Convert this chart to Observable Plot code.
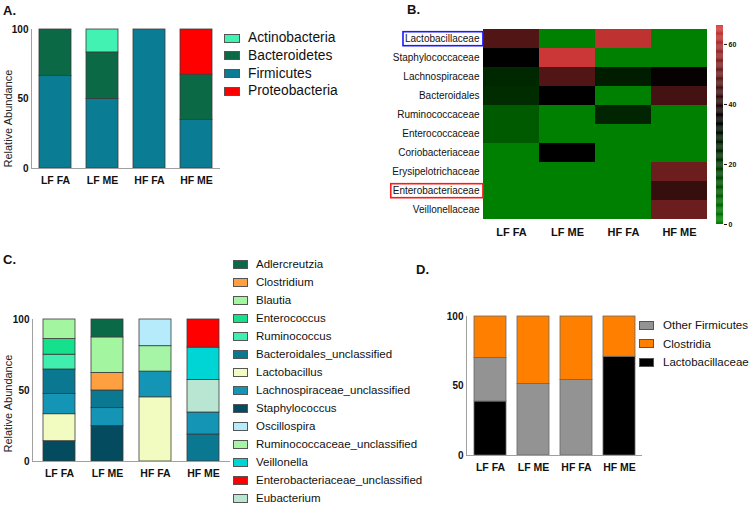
<!DOCTYPE html>
<html><head><meta charset="utf-8">
<script src="https://cdn.jsdelivr.net/npm/d3@7"></script>
<script src="https://cdn.jsdelivr.net/npm/@observablehq/plot@0.6"></script>
<style>
body{margin:0;background:#fff;}
#root{position:relative;width:750px;height:505px;overflow:hidden;font-family:"Liberation Sans",Arial,Helvetica,sans-serif;background:#fff;color:#111;}
.plabel{position:absolute;font-weight:bold;font-size:13px;line-height:1;}
.leg{position:absolute;font-size:11.5px;line-height:14px;height:14px;white-space:nowrap;display:flex;align-items:center;}
.sw{display:inline-block;box-sizing:border-box;border:1px solid #555;}
</style></head><body><div id="root"></div>
<script>
// ---------- shared ----------
const groups = ["LF FA", "LF ME", "HF FA", "HF ME"];
const abundanceTicks = [0, 50, 100];

// ---------- Panel A : phyla ----------
const phyla = ["Actinobacteria", "Bacteroidetes", "Firmicutes", "Proteobacteria"];
const phylaColors = ["#42F2B2", "#0B6A45", "#0A7D94", "#FF0000"];
const phylaStackOrder = ["Firmicutes", "Bacteroidetes", "Actinobacteria", "Proteobacteria"];
const firmicutesPct = [66.6, 50.0, 100, 35.0];
const bacteroidetesPct = [33.4, 33.5, 0, 32.5];
const actinobacteriaPct = [0, 16.5, 0, 0];
const proteobacteriaPct = [0, 0, 0, 32.5];

// ---------- Panel B : heatmap ----------
const families = ["Lactobacillaceae", "Staphylococcaceae", "Lachnospiraceae", "Bacteroidales",
  "Ruminococcaceae", "Enterococcaceae", "Coriobacteriaceae", "Erysipelotrichaceae",
  "Enterobacteriaceae", "Veillonellaceae"];
const heatLFFA = [47, 35, 24, 23, 10, 10, 0, 0, 0, 0];
const heatLFME = [0, 65, 47, 35, 0, 0, 35, 0, 0, 0];
const heatHFFA = [63, 0, 27, 0, 25, 0, 0, 0, 0, 0];
const heatHFME = [0, 0, 36, 45, 0, 0, 0, 51, 43, 51];
const heatTicks = [0, 20, 40, 60];
const heatDomain = [0, 35, 66.3];
const heatColors = ["#008000", "#000000", "#D43838"];
const boxedFamilies = ["Lactobacillaceae", "Enterobacteriaceae"];
const boxColors = ["#1a1aff", "#ff1a1a"];

// ---------- Panel C : genera ----------
const genera = ["Adlercreutzia", "Clostridium", "Blautia", "Enterococcus", "Ruminococcus",
  "Bacteroidales_unclassified", "Lactobacillus", "Lachnospiraceae_unclassified", "Staphylococcus",
  "Oscillospira", "Ruminococcaceae_unclassified", "Veillonella", "Enterobacteriaceae_unclassified", "Eubacterium"];
const generaColors = ["#0A6946", "#FFA040", "#A3F5A0", "#15E08C", "#40EFB0",
  "#0A7891", "#F2FCC0", "#1495B5", "#054B5F",
  "#B5EBFA", "#A6F5A6", "#00D5D5", "#FF0000", "#B9E6D2"];
const genusLFFA = ["Staphylococcus", "Lactobacillus", "Lachnospiraceae_unclassified", "Bacteroidales_unclassified", "Ruminococcus", "Enterococcus", "Blautia"];
const pctLFFA = [14.3, 19.0, 14.3, 17.2, 10.4, 11.0, 13.8];
const genusLFME = ["Staphylococcus", "Lachnospiraceae_unclassified", "Bacteroidales_unclassified", "Clostridium", "Blautia", "Adlercreutzia"];
const pctLFME = [25.0, 12.6, 12.4, 12.4, 25.0, 12.6];
const genusHFFA = ["Lactobacillus", "Lachnospiraceae_unclassified", "Ruminococcaceae_unclassified", "Oscillospira"];
const pctHFFA = [45.2, 18.1, 17.9, 18.8];
const genusHFME = ["Bacteroidales_unclassified", "Lachnospiraceae_unclassified", "Eubacterium", "Veillonella", "Enterobacteriaceae_unclassified"];
const pctHFME = [19.0, 15.5, 22.9, 22.8, 19.8];

// ---------- Panel D : Firmicutes breakdown ----------
const dClasses = ["Other Firmicutes", "Clostridia", "Lactobacillaceae"];
const dColors = ["#939393", "#FF8000", "#000000"];
const dStackOrder = ["Lactobacillaceae", "Other Firmicutes", "Clostridia"];
const lactobacillaceaePct = [38.8, 0, 0, 71.0];
const otherFirmicutesPct = [31.3, 51.4, 54.3, 0];
const clostridiaPct = [29.9, 48.6, 45.7, 29.0];

// ---------- helpers ----------
const root = document.getElementById("root");
const FONT = '"Liberation Sans", Arial, Helvetica, sans-serif';
const NS = "http://www.w3.org/2000/svg";

function place(el, left, top) {
  el.style.position = "absolute";
  el.style.left = left + "px";
  el.style.top = top + "px";
  root.appendChild(el);
  return el;
}
function panelLabel(t, left, top) {
  const d = document.createElement("div");
  d.className = "plabel"; d.textContent = t;
  place(d, left, top);
}
function legend(names, colors, left, firstCenter, step, swW, swH, gap, fontSize) {
  names.forEach((n, i) => {
    const row = document.createElement("div");
    row.className = "leg";
    if (fontSize) row.style.fontSize = fontSize + "px";
    const sw = document.createElement("span");
    sw.className = "sw";
    sw.style.width = swW + "px"; sw.style.height = swH + "px";
    sw.style.background = colors[i];
    sw.style.marginRight = gap + "px";
    const tx = document.createElement("span");
    tx.textContent = n;
    row.appendChild(sw); row.appendChild(tx);
    place(row, left, firstCenter + i * step - 7);
  });
}
function stackRows(orderNames, seriesArrays) {
  const rows = [];
  groups.forEach((g, j) => {
    orderNames.forEach((n, k) => {
      const v = seriesArrays[k][j];
      if (v > 0) rows.push({group: g, name: n, value: v});
    });
  });
  return rows;
}
function stackChart(o) {
  const marks = [
    Plot.barY(o.rows, {x: "group", y: "value", fill: "name", stroke: o.stroke, strokeWidth: 0.8}),
    Plot.ruleY([0], {stroke: "#a0a0a0", strokeWidth: 1}),
    Plot.axisX({tickSize: 0, tickPadding: 8, fontWeight: "bold", fontSize: 10.5, label: null}),
    Plot.axisY({ticks: abundanceTicks, tickSize: 0, tickPadding: 3, fontWeight: "bold", fontSize: 10, label: null})
  ];
  if (o.yLabel) marks.push(Plot.text([o.yLabel], {text: d => d, frameAnchor: "bottom-left", rotate: -90,
    textAnchor: "start", lineAnchor: "middle", dx: -(o.mL - 8), dy: o.labelDy || 0, fontSize: 11, fill: "#222"}));
  const p = Plot.plot({
    width: o.width, height: o.height,
    marginLeft: o.mL, marginRight: o.mR, marginTop: o.mT, marginBottom: o.mB,
    x: {domain: groups, paddingInner: o.pi, paddingOuter: o.po, label: null},
    y: {domain: [0, 100], label: null},
    color: {domain: o.domain, range: o.range},
    style: {background: "transparent", fontFamily: FONT, color: "#111"},
    marks
  });
  place(p, o.left, o.top);
  // y axis line drawn from the y scale
  const y = p.scale("y");
  const ln = document.createElementNS(NS, "line");
  ln.setAttribute("x1", o.mL + 0.5); ln.setAttribute("x2", o.mL + 0.5);
  ln.setAttribute("y1", y.apply(100)); ln.setAttribute("y2", y.apply(0));
  ln.setAttribute("stroke", "#a0a0a0"); ln.setAttribute("stroke-width", 1);
  p.appendChild(ln);
  return p;
}

// ---------- Panel A ----------
panelLabel("A.", 3, 4);
stackChart({
  rows: stackRows(phylaStackOrder, [firmicutesPct, bacteroidetesPct, actinobacteriaPct, proteobacteriaPct]),
  domain: phyla, range: phylaColors, stroke: "#3a3a3a",
  left: 0, top: 0, width: 222, height: 195, mL: 31, mR: 2, mT: 29, mB: 27,
  pi: 0.31, po: 0.165, yLabel: "Relative Abundance", labelDy: -1
});
legend(phyla, phylaColors, 224, 38, 17.8, 16, 9, 8, 13.8);

// ---------- Panel B ----------
panelLabel("B.", 407, 3);
const heatCols = [heatLFFA, heatLFME, heatHFFA, heatHFME];
const cells = families.flatMap((f, i) => groups.map((g, j) => ({family: f, group: g, value: heatCols[j][i]})));
const heatColor = {type: "linear", domain: heatDomain, range: heatColors, interpolate: "rgb", clamp: true};
const heat = Plot.plot({
  width: 340, height: 245, marginLeft: 102, marginRight: 12, marginTop: 24, marginBottom: 22,
  x: {domain: groups, padding: 0, label: null},
  y: {domain: families, padding: 0, label: null},
  color: heatColor,
  style: {background: "transparent", fontFamily: FONT, color: "#111"},
  marks: [
    Plot.cell(cells, {x: "group", y: "family", fill: "value", inset: 0}),
    Plot.axisX({tickSize: 0, tickPadding: 5, fontWeight: "bold", fontSize: 11, label: null}),
    Plot.axisY({tickSize: 0, tickPadding: 3, fontSize: 10, label: null})
  ]
});
place(heat, 380, 0);
heat.querySelectorAll('g[aria-label="y-axis tick label"] text').forEach(t => {
  const k = boxedFamilies.indexOf(t.textContent);
  if (k < 0) return;
  const bb = t.getBBox();
  const r = document.createElementNS(NS, "rect");
  r.setAttribute("x", bb.x - 2); r.setAttribute("y", bb.y - 1.5);
  r.setAttribute("width", bb.width + 5); r.setAttribute("height", bb.height + 3);
  r.setAttribute("fill", "none"); r.setAttribute("stroke", boxColors[k]); r.setAttribute("stroke-width", 1.6);
  if (t.getAttribute("transform")) r.setAttribute("transform", t.getAttribute("transform"));
  t.parentNode.appendChild(r);
});
// colour bar legend
const rampStep = 0.3;
const ramp = d3.range(0, heatDomain[2], rampStep);
const bar = Plot.plot({
  width: 45, height: 245, marginLeft: 16, marginRight: 22, marginTop: 25, marginBottom: 21,
  y: {domain: [0, heatDomain[2]], label: null},
  color: heatColor,
  style: {background: "transparent", fontFamily: FONT, color: "#111"},
  marks: [
    Plot.rect(ramp, {y1: d => d, y2: d => Math.min(d + rampStep + 0.05, heatDomain[2]), fill: d => d + rampStep / 2}),
    Plot.axisY({anchor: "right", ticks: heatTicks, tickSize: 3, tickPadding: 2, fontSize: 7, fontWeight: "bold", label: null})
  ]
});
place(bar, 700, 0);

// ---------- Panel C ----------
panelLabel("C.", 3, 253);
const cRows = [];
[[genusLFFA, pctLFFA], [genusLFME, pctLFME], [genusHFFA, pctHFFA], [genusHFME, pctHFME]].forEach(([gs, ps], j) => {
  gs.forEach((g, k) => cRows.push({group: groups[j], name: g, value: ps[k]}));
});
stackChart({
  rows: cRows, domain: genera, range: generaColors, stroke: "#3a3a3a",
  left: 0, top: 240, width: 232, height: 245, mL: 32, mR: 2, mT: 79, mB: 24,
  pi: 0.337, po: 0.19, yLabel: "Relative Abundance", labelDy: -9
});
legend(genera, generaColors, 233, 264, 18.0, 15, 9, 8);

// ---------- Panel D ----------
panelLabel("D.", 416, 263);
stackChart({
  rows: stackRows(dStackOrder, [lactobacillaceaePct, otherFirmicutesPct, clostridiaPct]),
  domain: dClasses, range: dColors, stroke: "#666",
  left: 420, top: 240, width: 224, height: 240, mL: 46, mR: 2, mT: 76, mB: 25,
  pi: 0.26, po: 0.16
});
legend(dClasses, dColors, 639, 325, 18.5, 15, 9, 9);
</script></body></html>
